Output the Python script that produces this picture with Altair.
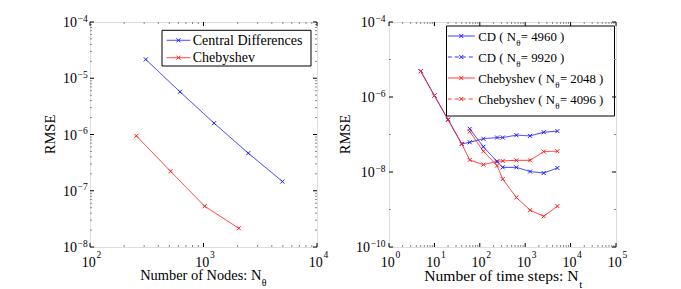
import altair as alt
import pandas as pd

FONT = "'Liberation Serif', 'Times New Roman', Times, 'DejaVu Serif', serif"
W, H = 227, 225
BLUE = "#1a1aff"
RED = "#ff1a1a"

# ---------------- left panel data ----------------
nodes_cd = [310, 620, 1240, 2480, 4960]
rmse_cd = [2.16e-5, 5.75e-6, 1.59e-6, 4.66e-7, 1.46e-7]
nodes_cheb = [256, 512, 1024, 2048]
rmse_cheb = [9.46e-7, 2.22e-7, 5.3e-8, 2.15e-8]
left_names = ["Central Differences", "Chebyshev"]

# ---------------- right panel data ----------------
steps_cd = [5, 10, 20, 40, 60, 120, 240, 320, 640, 1280, 2560, 5120]
rmse_cd_4960 = [4.87e-6, 1.09e-6, 2.52e-7, 5.6e-8, 6.2e-8, 7.7e-8, 8.3e-8, 8.3e-8, 9.6e-8, 9.2e-8, 1.15e-7, 1.23e-7]
rmse_cd_9920 = [4.87e-6, 1.09e-6, 2.45e-7, 5.6e-8, 2.09e-8, 1.57e-8, 1.93e-8, 1.97e-8, 2.05e-8, 2.05e-8, 3.5e-8, 3.58e-8]
steps_cheb = [60, 120, 240, 320, 640, 1280, 2560, 5120]
rmse_cheb_2048 = [1.42e-7, 4.7e-8, 1.9e-8, 1.33e-8, 1.33e-8, 1.03e-8, 9.4e-9, 1.28e-8]
rmse_cheb_4096 = [1.2e-7, 3.58e-8, 1.48e-8, 6.5e-9, 2.09e-9, 9.6e-10, 6.6e-10, 1.23e-9]
right_methods = ["CD", "CD", "Chebyshev", "Chebyshev"]
right_ntheta = ["4960", "9920", "2048", "4096"]

# ---------------- tick exponents ----------------
left_x_exp = [2, 3, 4]
left_y_exp = [-8, -7, -6, -5, -4]
right_x_exp = [0, 1, 2, 3, 4, 5]
right_y_exp = [-10, -8, -6, -4]
right_y_minor_exp = [-9, -7, -5]

XPATH = "M-1,-1L1,1M-1,1L1,-1"
TIMES = {' ': 250, '(': 333, ')': 333, '=': 564, 'C': 667, 'D': 722, 'N': 722,
         'h': 500, 'e': 444, 'b': 500, 'y': 500, 's': 389, 'v': 500}


def tw(s, size):
    return sum(TIMES.get(c, 500) for c in s) * size / 1000.0


def sup(e):
    return str(e).replace('-', '\u2212')


def series_layers(df, names, colors, dashes, xs, ys):
    color = alt.Color("s:N", scale=alt.Scale(domain=names, range=colors), legend=None)
    dash = alt.StrokeDash("s:N", scale=alt.Scale(domain=names, range=dashes), legend=None)
    base = alt.Chart(df).encode(
        x=alt.X("x:Q", scale=xs, axis=None),
        y=alt.Y("y:Q", scale=ys, axis=None),
        color=color,
    )
    lines = base.mark_line(strokeWidth=0.9).encode(strokeDash=dash)
    pts = base.mark_point(shape=XPATH, size=16, filled=False, strokeWidth=1, opacity=1)
    return [lines, pts]


def tick_layers(vals, xs, ys, axis, length, color):
    df = pd.DataFrame({"v": vals})
    c = alt.Chart(df).mark_rule(color=color, strokeWidth=1)
    if axis == "x":
        enc = dict(x=alt.X("v:Q", scale=xs, axis=None))
        return [c.encode(**enc, y=alt.value(H), y2=alt.value(H - length)),
                c.encode(**enc, y=alt.value(0), y2=alt.value(length))]
    enc = dict(y=alt.Y("v:Q", scale=ys, axis=None))
    return [c.encode(**enc, x=alt.value(0), x2=alt.value(length)),
            c.encode(**enc, x=alt.value(W), x2=alt.value(W - length))]


def minor_vals(exps):
    return [m * 10.0 ** e for e in exps[:-1] for m in range(2, 10)]


def xlabel_layers(exps, xs):
    df = pd.DataFrame({"v": [10.0 ** e for e in exps], "b": ["10"] * len(exps),
                       "e": [sup(e) for e in exps]})
    base = alt.Chart(df).encode(x=alt.X("v:Q", scale=xs, axis=None))
    b = base.mark_text(align="right", baseline="alphabetic", dx=5.8, font=FONT,
                       fontSize=14, color="black").encode(y=alt.value(H + 20), text="b:N")
    ex = base.mark_text(align="left", baseline="alphabetic", dx=6.5, font=FONT,
                        fontSize=9.5, color="black").encode(y=alt.value(H + 11), text="e:N")
    return [b, ex]


def ylabel_layers(exps, ys, right_edge):
    out = []
    lens = sorted(set(len(sup(e)) for e in exps))
    for n in lens:
        grp = [e for e in exps if len(sup(e)) == n]
        ew = 9.5 * (0.564 + 0.5 * (n - 1))
        df = pd.DataFrame({"v": [10.0 ** e for e in grp], "b": ["10"] * len(grp),
                           "e": [sup(e) for e in grp]})
        base = alt.Chart(df).encode(y=alt.Y("v:Q", scale=ys, axis=None))
        out.append(base.mark_text(align="right", baseline="alphabetic", dy=5, font=FONT,
                                  fontSize=14, color="black")
                   .encode(x=alt.value(right_edge - ew - 0.6), text="b:N"))
        out.append(base.mark_text(align="right", baseline="alphabetic", dy=-0.5, font=FONT,
                                  fontSize=9.5, color="black")
                   .encode(x=alt.value(right_edge), text="e:N"))
    return out


def text_piece(txt, x, y, size, align="left", angle=0, baseline="alphabetic"):
    return alt.Chart(pd.DataFrame({"t": [txt]})).mark_text(
        align=align, baseline=baseline, font=FONT, fontSize=size, color="black", angle=angle
    ).encode(x=alt.value(x), y=alt.value(y), text="t:N")


def legend_box(x0, x1, y0, y1):
    return alt.Chart(pd.DataFrame({"a": [0]})).mark_rect(
        fill="white", stroke="black", strokeWidth=1
    ).encode(x=alt.value(x0), x2=alt.value(x1), y=alt.value(y0), y2=alt.value(y1))


def legend_sample(color, dash, x0, x1, y):
    df = pd.DataFrame({"a": [0]})
    line = alt.Chart(df).mark_rule(color=color, strokeWidth=0.9, strokeDash=dash).encode(
        x=alt.value(x0), x2=alt.value(x1), y=alt.value(y))
    pt = alt.Chart(df).mark_point(shape=XPATH, size=16, filled=False, strokeWidth=1,
                                  color=color, opacity=1).encode(
        x=alt.value((x0 + x1) / 2), y=alt.value(y))
    return [line, pt]


# ---------------- left panel ----------------
xs_l = alt.Scale(type="log", domain=[1e2, 1e4], nice=False)
ys_l = alt.Scale(type="log", domain=[1e-8, 1e-4], nice=False)
df_l = pd.concat([
    pd.DataFrame({"x": nodes_cd, "y": rmse_cd, "s": left_names[0]}),
    pd.DataFrame({"x": nodes_cheb, "y": rmse_cheb, "s": left_names[1]}),
])
L = []
L += series_layers(df_l, left_names, [BLUE, RED], [[1, 0], [1, 0]], xs_l, ys_l)
L.append(legend_box(72, 221, 8.3, 44))
L += legend_sample(BLUE, [1, 0], 76.7, 100.3, 18.3)
L += legend_sample(RED, [1, 0], 76.7, 100.3, 35.7)
L.append(text_piece(left_names[0], 102.7, 23, 14))
L.append(text_piece(left_names[1], 102.7, 40, 14))
L += tick_layers(minor_vals(left_x_exp), xs_l, ys_l, "x", 2, "#888888")
L += tick_layers(minor_vals(left_y_exp), xs_l, ys_l, "y", 2, "#888888")
L += tick_layers([10.0 ** e for e in left_x_exp], xs_l, ys_l, "x", 4, "black")
L += tick_layers([10.0 ** e for e in left_y_exp], xs_l, ys_l, "y", 4, "black")
L += xlabel_layers(left_x_exp, xs_l)
L += ylabel_layers([-8, -7, -6, -5, -4], ys_l, -2.3)
L.append(text_piece("Number of Nodes: N", 171.3, H + 32.5, 14.4, align="right"))
L.append(text_piece("\u03b8", 171.8, H + 39, 10))
L.append(text_piece("RMSE", -39, H / 2, 14.5, align="center", angle=270, baseline="middle"))
# invisible anchor fixing the plot origin on the page
L.append(alt.Chart(pd.DataFrame({"a": [0]})).mark_rect(opacity=0).encode(
    x=alt.value(-81), x2=alt.value(-80), y=alt.value(-13), y2=alt.value(-12)))
left = alt.layer(*L).properties(width=W, height=H)

# ---------------- right panel ----------------
xs_r = alt.Scale(type="log", domain=[1e0, 1e5], nice=False)
ys_r = alt.Scale(type="log", domain=[1e-10, 1e-4], nice=False)
right_names = [f"{m} ( N\u03b8 = {n} )" for m, n in zip(right_methods, right_ntheta)]
df_r = pd.concat([
    pd.DataFrame({"x": steps_cd, "y": rmse_cd_4960, "s": right_names[0]}),
    pd.DataFrame({"x": steps_cd, "y": rmse_cd_9920, "s": right_names[1]}),
    pd.DataFrame({"x": steps_cheb, "y": rmse_cheb_2048, "s": right_names[2]}),
    pd.DataFrame({"x": steps_cheb, "y": rmse_cheb_4096, "s": right_names[3]}),
])
R_colors = [BLUE, BLUE, RED, RED]
R_dashes = [[1, 0], [4, 3], [1, 0], [4, 3]]
R = []
R += series_layers(df_r, right_names, R_colors, R_dashes, xs_r, ys_r)
R.append(legend_box(57.5, 225.5, 4, 94))
LS = 12.8
for i, (m, n) in enumerate(zip(right_methods, right_ntheta)):
    yl = 14 + 21 * i
    yb = 19 + 21 * i
    R += legend_sample(R_colors[i], R_dashes[i], 58.8, 85.8, yl)
    pre = f"{m} ( N"
    x_sub = 89.2 + tw(pre, LS) + 0.3
    R.append(text_piece(pre, 89.2, yb, LS))
    R.append(text_piece("\u03b8", x_sub, yb + 4.5, 9))
    R.append(text_piece(f" = {n} )", x_sub + 4.6, yb, LS))
R += tick_layers(minor_vals(right_x_exp), xs_r, ys_r, "x", 2, "#888888")
R += tick_layers([10.0 ** e for e in right_y_minor_exp], xs_r, ys_r, "y", 2, "#888888")
R += tick_layers([10.0 ** e for e in right_x_exp], xs_r, ys_r, "x", 4, "black")
R += tick_layers([10.0 ** e for e in right_y_exp], xs_r, ys_r, "y", 4, "black")
R += xlabel_layers(right_x_exp, xs_r)
R += ylabel_layers(right_y_exp, ys_r, -3.5)
R.append(text_piece("Number of time steps: N", 189.5, H + 34, 15.6, align="right"))
R.append(text_piece("t", 190.2, H + 41, 11))
R.append(text_piece("RMSE", -43.5, H / 2, 14.5, align="center", angle=270, baseline="middle"))
right = alt.layer(*R).properties(width=W, height=H)

chart = alt.hconcat(left, right, spacing=72, bounds="flush").properties(
    padding={"left": 0, "top": 0, "right": 0, "bottom": 0}
).configure_view(stroke="black", strokeWidth=1).configure(background="white")

chart.save("out.html", embed_options={"renderer": "svg", "actions": False})
